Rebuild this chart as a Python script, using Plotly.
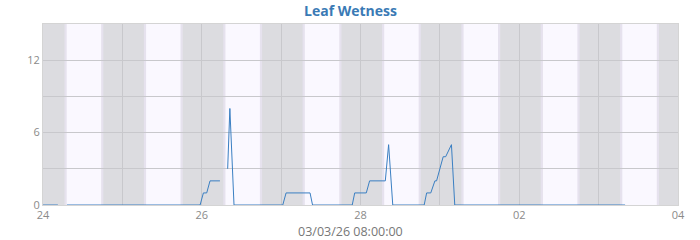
import plotly.graph_objects as go
import pandas as pd

# Leaf wetness readings (vertex timestamps and values); None marks a gap
times = [
    "2026-02-24 00:00", "2026-02-24 04:30", None,
    "2026-02-24 07:15", "2026-02-25 23:30", "2026-02-26 00:30", "2026-02-26 01:30",
    "2026-02-26 02:30", "2026-02-26 05:30", None,
    "2026-02-26 07:50", "2026-02-26 08:30", "2026-02-26 09:45",
    "2026-02-27 00:30", "2026-02-27 01:30", "2026-02-27 08:45", "2026-02-27 09:30",
    "2026-02-27 21:30", "2026-02-27 22:15", "2026-02-28 01:45", "2026-02-28 02:45",
    "2026-02-28 07:30", "2026-02-28 08:30", "2026-02-28 09:45",
    "2026-02-28 19:15", "2026-02-28 20:00", "2026-02-28 21:15", "2026-02-28 22:30",
    "2026-02-28 23:00", "2026-03-01 01:00", "2026-03-01 01:45", "2026-03-01 03:30",
    "2026-03-01 04:30", "2026-03-03 08:00",
]
wetness = [
    0, 0, None,
    0, 0, 1, 1,
    2, 2, None,
    3, 8, 0,
    0, 1, 1, 0,
    0, 1, 1, 2,
    2, 5, 0,
    0, 1, 1, 2,
    2, 4, 4, 5,
    0, 0,
]

# Daylight periods (sunrise, sunset) per day
days = ["2026-02-24", "2026-02-25", "2026-02-26", "2026-02-27", "2026-02-28",
        "2026-03-01", "2026-03-02", "2026-03-03"]
sunrise = "07:10"
sunset = "17:35"
twilight_min = 40

x_range = ["2026-02-24", "2026-03-04"]
y_ticks = [0, 6, 12]
x_title = "03/03/26 08:00:00"
chart_title = "Leaf Wetness"

fig = go.Figure()

shapes = []
for d in days:
    sr = pd.Timestamp(f"{d} {sunrise}")
    ss = pd.Timestamp(f"{d} {sunset}")
    tw = pd.Timedelta(minutes=twilight_min)
    shapes.append(dict(type="rect", xref="x", yref="paper", x0=sr - tw, x1=ss + tw,
                       y0=0, y1=1, fillcolor="#e6e2ee", line_width=0, layer="below"))
    shapes.append(dict(type="rect", xref="x", yref="paper", x0=sr, x1=ss,
                       y0=0, y1=1, fillcolor="#faf8ff", line_width=0, layer="below"))

fig.add_trace(go.Scatter(
    x=[pd.Timestamp(t) if t else None for t in times],
    y=wetness,
    mode="lines",
    line=dict(color="#3a7fc2", width=1),
    connectgaps=False,
    hoverinfo="x+y",
))

page_center = (350 - 43) / 635

fig.update_layout(
    width=700, height=240,
    margin=dict(l=43, r=22, t=24, b=35, autoexpand=False),
    paper_bgcolor="white",
    plot_bgcolor="#dcdce0",
    shapes=shapes,
    showlegend=False,
    font=dict(family="Open Sans", color="#777777", size=11),
    annotations=[
        dict(text=f"<b>{chart_title}</b>", xref="paper", yref="paper", x=page_center, y=1,
             yshift=14, xanchor="center", yanchor="middle", showarrow=False,
             font=dict(family="Open Sans", size=14, color="#3a7ab5")),
        dict(text=x_title, xref="paper", yref="paper", x=page_center, y=0, yshift=-26,
             xanchor="center", yanchor="middle", showarrow=False,
             font=dict(family="Open Sans", size=12.5, color="#777777")),
    ],
    xaxis=dict(
        range=x_range,
        tickformat="%d",
        dtick=2 * 86400000,
        tick0="2026-02-24",
        showgrid=True, gridcolor="#c8c8cc", gridwidth=1,
        minor=dict(dtick=86400000, showgrid=True, gridcolor="#c8c8cc", gridwidth=1),
        showline=True, linecolor="#d4d4d4", mirror=True,
        ticks="", zeroline=False, automargin=False,
        tickfont=dict(size=11, color="#8a8a8a"),
    ),
    yaxis=dict(
        range=[0, 15],
        tickvals=y_ticks,
        showgrid=True, gridcolor="#c8c8cc", gridwidth=1,
        minor=dict(dtick=3, showgrid=True, gridcolor="#c8c8cc", gridwidth=1),
        showline=True, linecolor="#d4d4d4", mirror=True,
        ticks="", zeroline=False, automargin=False,
        tickfont=dict(size=11, color="#8a8a8a"),
    ),
)

fig.write_html("out.html")
